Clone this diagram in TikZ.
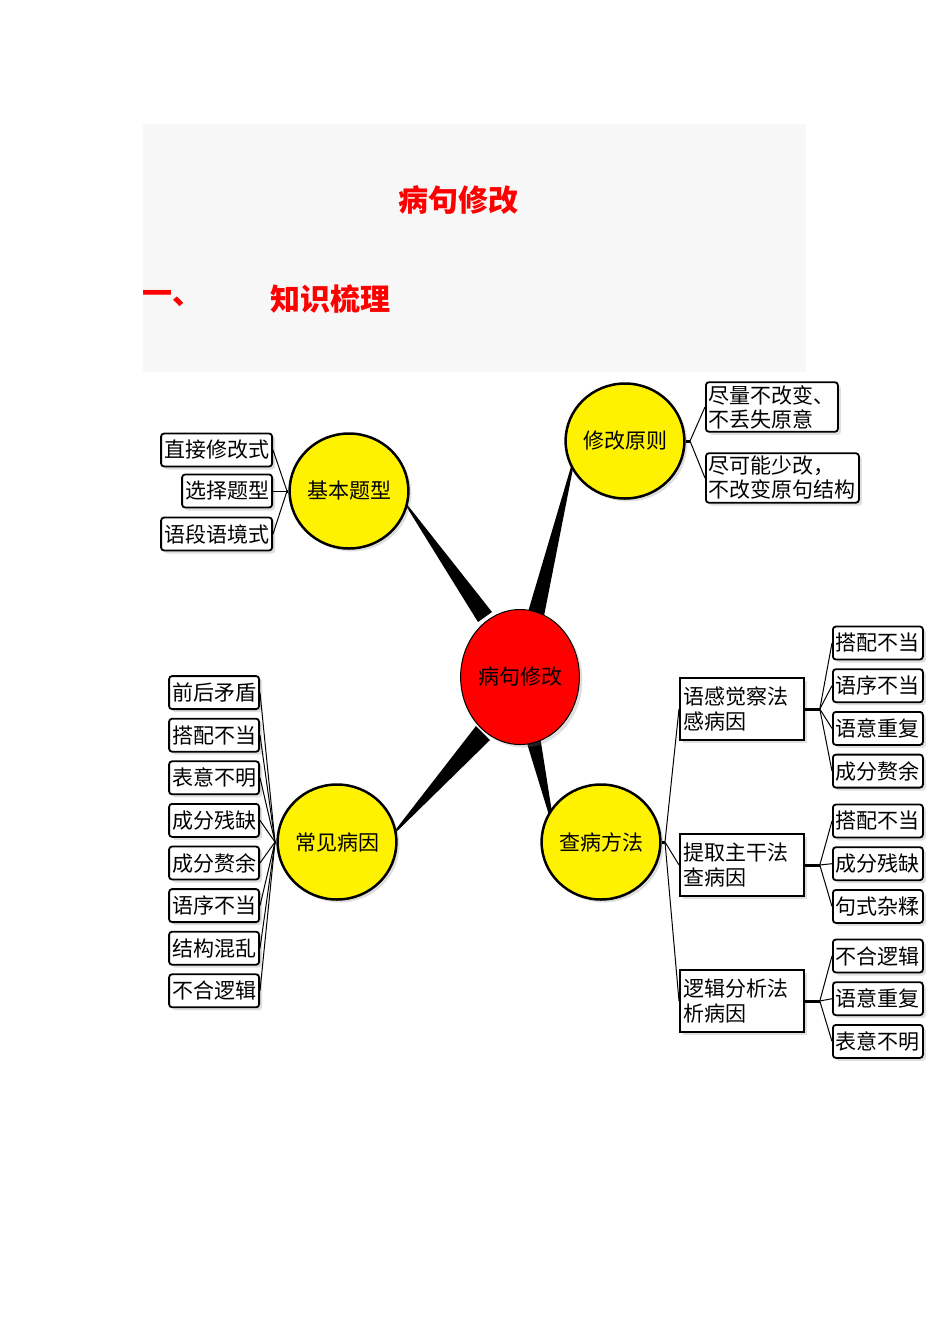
\documentclass[tikz,border=0pt]{standalone}
\usepackage{fontspec}
\setmainfont{Noto Sans CJK SC}
\usetikzlibrary{shadows,shapes.geometric}
\tikzset{
  circ/.style={ellipse, draw, line width=2.5pt, fill=yellow, minimum width=95pt, minimum height=115pt, inner sep=0pt, font=\fontsize{21}{24}\selectfont, drop shadow={opacity=0.25, shadow xshift=3pt, shadow yshift=-3pt}},
  leaf/.style={draw, line width=1.8pt, rounded corners=3pt, fill=white, minimum height=33pt, inner sep=3pt, font=\fontsize{21}{24}\selectfont, drop shadow={opacity=0.25, shadow xshift=3pt, shadow yshift=-3pt}},
  midbox/.style={draw, line width=1.8pt, fill=white, minimum width=124pt, minimum height=62pt, inner sep=3pt, align=left, text width=116pt, font=\fontsize{21}{25}\selectfont, drop shadow={opacity=0.25, shadow xshift=3pt, shadow yshift=-3pt}},
  fan/.style={line width=1pt},
  stem/.style={line width=3pt}
}
\begin{document}
\begin{tikzpicture}[x=1pt,y=-1pt]
\useasboundingbox (0,0) rectangle (950,1344);
\fill[black!3] (143,124) rectangle (806,372);
\node[text=red, font=\bfseries\fontsize{30}{32}\selectfont] (title) at (458,200) {病句修改};
\node[text=red, font=\bfseries\fontsize{30}{32}\selectfont] (num) at (172,299) {一、};
\node[text=red, font=\bfseries\fontsize{30}{32}\selectfont] (sec) at (330,299) {知识梳理};
% wedges
\fill (398,493) -- (478,622) -- (492,612) -- cycle;
\fill (578,443) -- (528,612) -- (544,616) -- cycle;
\fill (386,842) -- (476,726) -- (490,740) -- cycle;
\fill (556,838) -- (526,740) -- (540,736) -- cycle;
\node[circ, fill=red, minimum width=110pt, minimum height=135pt, line width=1pt] (root) at (520,677) {病句修改};
\node[circ] (basic) at (349,491) {基本题型};
\node[circ] (rule) at (625,441) {修改原则};
\node[circ] (cause) at (337,842) {常见病因};
\node[circ] (check) at (601,842) {查病方法};
% basic types
\node[leaf, anchor=east] (b1) at (273,450) {直接修改式};
\node[leaf, anchor=east] (b2) at (273,491) {选择题型};
\node[leaf, anchor=east] (b3) at (273,534) {语段语境式};
\coordinate (bj) at (287,491);
\draw[stem] (basic.west) -- (bj);
\foreach \n in {b1,b2,b3} \draw[fan] (bj) -- (\n.east);
% principles
\node[leaf, anchor=west, align=left] (r1) at (705,407) {尽量不改变、\\不丢失原意};
\node[leaf, anchor=west, align=left] (r2) at (705,478) {尽可能少改，\\不改变原句结构};
\coordinate (rj) at (690,441);
\draw[stem] (rule.east) -- (rj);
\foreach \n in {r1,r2} \draw[fan] (rj) -- (\n.west);
% common causes
\coordinate (cj) at (275,842);
\draw[stem] (cause.west) -- (cj);
\foreach \t [count=\i] in {前后矛盾,搭配不当,表意不明,成分残缺,成分赘余,语序不当,结构混乱,不合逻辑} {
  \node[leaf, anchor=east] (c\i) at (260,650+42.6*\i) {\t};
  \draw[fan] (cj) -- (c\i.east);
}
% checking methods
\coordinate (mj) at (665,842);
\draw[stem] (check.east) -- (mj);
\node[midbox, anchor=west] (m1) at (679,709) {语感觉察法\\感病因};
\node[midbox, anchor=west] (m2) at (679,865) {提取主干法\\查病因};
\node[midbox, anchor=west] (m3) at (679,1001) {逻辑分析法\\析病因};
\foreach \n in {m1,m2,m3} \draw[fan] (mj) -- (\n.west);
\foreach \m/\y/\list in {m1/643/{搭配不当,语序不当,语意重复,成分赘余}, m2/821/{搭配不当,成分残缺,句式杂糅}, m3/956/{不合逻辑,语意重复,表意不明}} {
  \draw[stem] (\m.east) -- ++(15,0) coordinate (\m k);
  \foreach \t [count=\i] in \list {
    \node[leaf, anchor=west] (\m l\i) at (832,\y+42.7*\i-42.7) {\t};
    \draw[fan] (\m k) -- (\m l\i.west);
  }
}
\end{tikzpicture}
\end{document}
